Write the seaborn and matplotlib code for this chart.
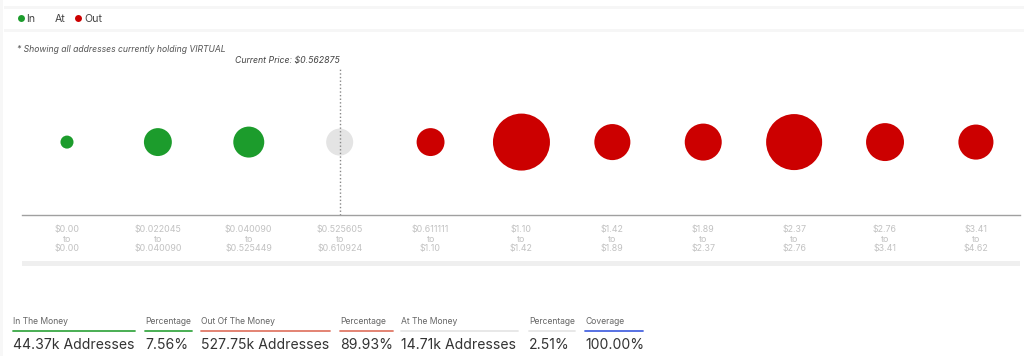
import matplotlib
matplotlib.use("Agg")
import matplotlib.pyplot as plt
from matplotlib.lines import Line2D
from matplotlib.patches import Rectangle
import seaborn as sns
import pandas as pd

# ---- data ----
range_low = ["$0.00", "$0.022045", "$0.040090", "$0.525605", "$0.611111", "$1.10",
             "$1.42", "$1.89", "$2.37", "$2.76", "$3.41"]
range_high = ["$0.00", "$0.040090", "$0.525449", "$0.610924", "$1.10", "$1.42",
              "$1.89", "$2.37", "$2.76", "$3.41", "$4.62"]
status = ["In", "In", "In", "At", "Out", "Out", "Out", "Out", "Out", "Out", "Out"]
volume = [1.7, 7.8, 9.6, 7.3, 7.8, 32.5, 13.0, 13.7, 31.4, 14.4, 12.3]  # relative bubble volume (estimated)
current_price_label = "Current Price: $0.562875"
current_bin = 3

summary_labels = ["In The Money", "Percentage", "Out Of The Money", "Percentage",
                  "At The Money", "Percentage", "Coverage"]
summary_values = ["44.37k Addresses", "7.56%", "527.75k Addresses", "89.93%",
                  "14.71k Addresses", "2.51%", "100.00%"]

palette = {"In": "#1c9c2c", "At": "#e4e4e4", "Out": "#cc0000"}
line_colors = ["#3aa845", "#3aa845", "#e07a68", "#e07a68", "#e6e6e6", "#e6e6e6", "#4a66e0"]

df = pd.DataFrame({
    "pos": list(range(len(range_low))),
    "y": [0] * len(range_low),
    "status": status,
    "volume": volume,
})

sns.set_theme(style="white")
plt.rcParams["font.family"] = ["Inter", "DejaVu Sans"]

W, H = 1024, 356
fig = plt.figure(figsize=(W / 100, H / 100), dpi=100)
fig.patch.set_facecolor("white")

def fx(px):
    return px / W

def fy(py):
    return 1 - py / H

# faint separator bands at top
for yb in (7, 30):
    fig.add_artist(Rectangle((fx(4), fy(yb + 1.5)), fx(1020), 3 / H, transform=fig.transFigure,
                             facecolor="#f6f6f6", edgecolor="none"))
fig.add_artist(Rectangle((0, 0), fx(3), 1, transform=fig.transFigure,
                         facecolor="#f7f7f7", edgecolor="none"))

# main bubble axes
left_px, right_px, top_px, bottom_px = 22, 1020, 40, 215
ax = fig.add_axes([fx(left_px), fy(bottom_px), fx(right_px - left_px), (bottom_px - top_px) / H])
sns.scatterplot(data=df, x="pos", y="y", hue="status", palette=palette, size="volume",
                sizes=(0, 1684), size_norm=(0, 32.5), linewidth=0, legend=False, ax=ax)
ax.set_xlim(-0.495, 10.485)
ax.set_ylim(-1, 1.4)
ax.set_xlabel("")
ax.set_ylabel("")
ax.set_yticks([])
ax.set_xticks(df["pos"])
ax.set_xticklabels([f"{a}\nto\n{b}" for a, b in zip(range_low, range_high)],
                   fontsize=6.4, color="#c2c2c2", linespacing=1.05)
ax.tick_params(axis="x", length=0, pad=7.5)
for s in ("top", "left", "right"):
    ax.spines[s].set_visible(False)
ax.spines["bottom"].set_color("#a0a0a0")
ax.spines["bottom"].set_linewidth(1.0)
ax.set_facecolor("white")

ax.axvline(current_bin, ymin=0, ymax=0.84, color="#888888", lw=1.0, ls=(0, (1, 1.6)))
ax.annotate(current_price_label, xy=(current_bin, 0.855), xycoords=("data", "axes fraction"),
            ha="right", va="bottom", fontsize=6.3, style="italic", color="#444444")

# scroll band under tick labels
fig.add_artist(Rectangle((fx(left_px), fy(266)), fx(right_px - left_px), 5 / H,
                         transform=fig.transFigure, facecolor="#efefef", edgecolor="none"))

# note
fig.text(fx(17), fy(49), "* Showing all addresses currently holding VIRTUAL", fontsize=6.2,
         style="italic", color="#555555", va="center", ha="left")

# legend
handles = [Line2D([], [], marker="o", ls="", markersize=5.0, markerfacecolor=palette[k],
                  markeredgewidth=0, color=palette[k])
           for k in ("In", "At", "Out")]
handles[1].set_markerfacecolor("white")
leg = fig.legend(handles, ["In", "At", "Out"], loc="center left", bbox_to_anchor=(fx(11), fy(19)),
                 ncol=3, frameon=False, fontsize=7.6, handletextpad=0.05, columnspacing=0.75,
                 handlelength=1.0, borderaxespad=0)
for t in leg.get_texts():
    t.set_color("#444444")

# summary
starts = [13, 145, 201, 340, 401, 529, 585]
ends = [135, 192, 330, 393, 518, 575, 643]
for lab, val, x0, x1, c in zip(summary_labels, summary_values, starts, ends, line_colors):
    fig.text(fx(x0), fy(321), lab, fontsize=6.2, color="#666666", va="center", ha="left")
    fig.add_artist(Line2D([fx(x0), fx(x1)], [fy(331), fy(331)], transform=fig.transFigure,
                          color=c, lw=1.3))
    fig.text(fx(x0), fy(345), val, fontsize=10.1, color="#333333", va="center", ha="left")

fig.savefig("out.png", dpi=100, facecolor="white")
